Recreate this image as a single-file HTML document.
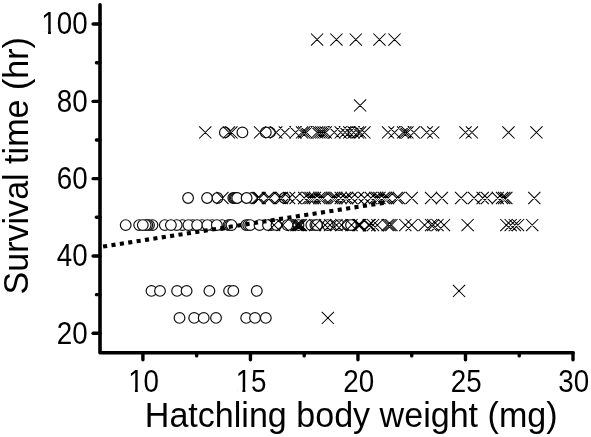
<!DOCTYPE html>
<html><head><meta charset="utf-8"><style>
html,body{margin:0;padding:0;background:#fff;}
svg{display:block;}
circle{fill:#fff;stroke:#111;stroke-width:1.2;}
.x{fill:none;stroke:#000;stroke-width:1.05;}
</style></head><body>
<svg width="591" height="437" viewBox="0 0 591 437">
<rect width="591" height="437" fill="#fff"/>
<g>
<path d="M100,4.8 L100,352.7 L573,352.7" fill="none" stroke="#000" stroke-width="3.6" stroke-linecap="round" stroke-linejoin="round"/>
<line x1="93.1" y1="333.30" x2="100" y2="333.30" stroke="#000" stroke-width="3.4" stroke-linecap="round"/>
<line x1="96.4" y1="294.64" x2="100" y2="294.64" stroke="#000" stroke-width="3.4" stroke-linecap="round"/>
<line x1="93.1" y1="255.98" x2="100" y2="255.98" stroke="#000" stroke-width="3.4" stroke-linecap="round"/>
<line x1="96.4" y1="217.32" x2="100" y2="217.32" stroke="#000" stroke-width="3.4" stroke-linecap="round"/>
<line x1="93.1" y1="178.66" x2="100" y2="178.66" stroke="#000" stroke-width="3.4" stroke-linecap="round"/>
<line x1="96.4" y1="140.00" x2="100" y2="140.00" stroke="#000" stroke-width="3.4" stroke-linecap="round"/>
<line x1="93.1" y1="101.34" x2="100" y2="101.34" stroke="#000" stroke-width="3.4" stroke-linecap="round"/>
<line x1="96.4" y1="62.68" x2="100" y2="62.68" stroke="#000" stroke-width="3.4" stroke-linecap="round"/>
<line x1="93.1" y1="24.02" x2="100" y2="24.02" stroke="#000" stroke-width="3.4" stroke-linecap="round"/>
<line x1="142.90" y1="352.7" x2="142.90" y2="359.7" stroke="#000" stroke-width="3.4" stroke-linecap="round"/>
<line x1="196.66" y1="352.7" x2="196.66" y2="355.9" stroke="#000" stroke-width="3.4" stroke-linecap="round"/>
<line x1="250.43" y1="352.7" x2="250.43" y2="359.7" stroke="#000" stroke-width="3.4" stroke-linecap="round"/>
<line x1="304.19" y1="352.7" x2="304.19" y2="355.9" stroke="#000" stroke-width="3.4" stroke-linecap="round"/>
<line x1="357.95" y1="352.7" x2="357.95" y2="359.7" stroke="#000" stroke-width="3.4" stroke-linecap="round"/>
<line x1="411.71" y1="352.7" x2="411.71" y2="355.9" stroke="#000" stroke-width="3.4" stroke-linecap="round"/>
<line x1="465.48" y1="352.7" x2="465.48" y2="359.7" stroke="#000" stroke-width="3.4" stroke-linecap="round"/>
<line x1="519.24" y1="352.7" x2="519.24" y2="355.9" stroke="#000" stroke-width="3.4" stroke-linecap="round"/>
<line x1="573.00" y1="352.7" x2="573.00" y2="359.7" stroke="#000" stroke-width="3.4" stroke-linecap="round"/>
<g transform="translate(87.6,343.50) scale(0.91,1)"><text text-anchor="end" font-family="Liberation Sans, Arial, sans-serif" font-size="30.5">20</text></g>
<g transform="translate(87.6,266.18) scale(0.91,1)"><text text-anchor="end" font-family="Liberation Sans, Arial, sans-serif" font-size="30.5">40</text></g>
<g transform="translate(87.6,188.86) scale(0.91,1)"><text text-anchor="end" font-family="Liberation Sans, Arial, sans-serif" font-size="30.5">60</text></g>
<g transform="translate(87.6,111.54) scale(0.91,1)"><text text-anchor="end" font-family="Liberation Sans, Arial, sans-serif" font-size="30.5">80</text></g>
<g transform="translate(87.6,34.22) scale(0.91,1)"><text text-anchor="end" font-family="Liberation Sans, Arial, sans-serif" font-size="30.5">100</text><rect x="-49.10" y="-3.08" width="5.66" height="3.68" fill="#fff"/><rect x="-40.28" y="-3.08" width="5.41" height="3.68" fill="#fff"/></g>
<g transform="translate(143.60,391.6) scale(0.91,1)"><text text-anchor="middle" font-family="Liberation Sans, Arial, sans-serif" font-size="30.5">10</text><rect x="-15.18" y="-3.08" width="5.66" height="3.68" fill="#fff"/><rect x="-6.36" y="-3.08" width="5.41" height="3.68" fill="#fff"/></g>
<g transform="translate(251.12,391.6) scale(0.91,1)"><text text-anchor="middle" font-family="Liberation Sans, Arial, sans-serif" font-size="30.5">15</text><rect x="-15.18" y="-3.08" width="5.66" height="3.68" fill="#fff"/><rect x="-6.36" y="-3.08" width="5.41" height="3.68" fill="#fff"/></g>
<g transform="translate(358.65,391.6) scale(0.91,1)"><text text-anchor="middle" font-family="Liberation Sans, Arial, sans-serif" font-size="30.5">20</text></g>
<g transform="translate(466.18,391.6) scale(0.91,1)"><text text-anchor="middle" font-family="Liberation Sans, Arial, sans-serif" font-size="30.5">25</text></g>
<g transform="translate(573.70,391.6) scale(0.91,1)"><text text-anchor="middle" font-family="Liberation Sans, Arial, sans-serif" font-size="30.5">30</text></g>
<text transform="translate(144.8,426.6) scale(0.96,1)" font-family="Liberation Sans, Arial, sans-serif" font-size="35.5">Hatchling body weight (mg)</text>
<text transform="translate(28.2,294.5) rotate(-90) scale(0.96,1)" font-family="Liberation Sans, Arial, sans-serif" font-size="35.5">Survival time (hr)</text>
<circle cx="224.9" cy="132.4" r="5.35"/>
<circle cx="242.4" cy="132.4" r="5.35"/>
<circle cx="269.9" cy="132.4" r="5.35"/>
<circle cx="265.8" cy="132.4" r="5.35"/>
<circle cx="353.6" cy="132.4" r="5.35"/>
<circle cx="188.1" cy="198.0" r="5.35"/>
<circle cx="207.1" cy="198.0" r="5.35"/>
<circle cx="217.5" cy="198.0" r="5.35"/>
<circle cx="233.3" cy="198.0" r="5.35"/>
<circle cx="234.6" cy="198.0" r="5.35"/>
<circle cx="235.9" cy="198.0" r="5.35"/>
<circle cx="237.2" cy="198.0" r="5.35"/>
<circle cx="252.2" cy="198.0" r="5.35"/>
<circle cx="246.6" cy="198.0" r="5.35"/>
<circle cx="284.5" cy="198.0" r="5.35"/>
<circle cx="182.5" cy="225.1" r="5.35"/>
<circle cx="192.8" cy="225.1" r="5.35"/>
<circle cx="202.2" cy="225.1" r="5.35"/>
<circle cx="212.1" cy="225.1" r="5.35"/>
<circle cx="222.0" cy="225.1" r="5.35"/>
<circle cx="125.7" cy="225.1" r="5.35"/>
<circle cx="152.5" cy="225.1" r="5.35"/>
<circle cx="149.0" cy="225.1" r="5.35"/>
<circle cx="147.3" cy="225.1" r="5.35"/>
<circle cx="145.7" cy="225.1" r="5.35"/>
<circle cx="139.2" cy="225.1" r="5.35"/>
<circle cx="142.8" cy="225.1" r="5.35"/>
<circle cx="164.8" cy="225.1" r="5.35"/>
<circle cx="176.7" cy="225.1" r="5.35"/>
<circle cx="170.9" cy="225.1" r="5.35"/>
<circle cx="188.4" cy="225.1" r="5.35"/>
<circle cx="197.1" cy="225.1" r="5.35"/>
<circle cx="207.4" cy="225.1" r="5.35"/>
<circle cx="216.8" cy="225.1" r="5.35"/>
<circle cx="228.5" cy="225.1" r="5.35"/>
<circle cx="230.0" cy="225.1" r="5.35"/>
<circle cx="231.5" cy="225.1" r="5.35"/>
<circle cx="246.2" cy="225.1" r="5.35"/>
<circle cx="248.2" cy="225.1" r="5.35"/>
<circle cx="250.2" cy="225.1" r="5.35"/>
<circle cx="259.5" cy="225.1" r="5.35"/>
<circle cx="271.3" cy="225.1" r="5.35"/>
<circle cx="268.0" cy="225.1" r="5.35"/>
<circle cx="276.5" cy="225.1" r="5.35"/>
<circle cx="287.5" cy="225.1" r="5.35"/>
<circle cx="298.5" cy="225.1" r="5.35"/>
<circle cx="311.3" cy="225.1" r="5.35"/>
<circle cx="315.4" cy="225.1" r="5.35"/>
<circle cx="316.9" cy="225.1" r="5.35"/>
<circle cx="327.7" cy="225.1" r="5.35"/>
<circle cx="339.3" cy="225.1" r="5.35"/>
<circle cx="347.6" cy="225.1" r="5.35"/>
<circle cx="351.0" cy="225.1" r="5.35"/>
<circle cx="151.5" cy="290.9" r="5.35"/>
<circle cx="160.0" cy="290.9" r="5.35"/>
<circle cx="177.1" cy="290.9" r="5.35"/>
<circle cx="186.6" cy="290.9" r="5.35"/>
<circle cx="209.4" cy="290.9" r="5.35"/>
<circle cx="229.1" cy="290.9" r="5.35"/>
<circle cx="233.3" cy="290.9" r="5.35"/>
<circle cx="256.8" cy="290.9" r="5.35"/>
<circle cx="179.5" cy="317.9" r="5.35"/>
<circle cx="194.2" cy="317.9" r="5.35"/>
<circle cx="203.7" cy="317.9" r="5.35"/>
<circle cx="216.0" cy="317.9" r="5.35"/>
<circle cx="246.2" cy="317.9" r="5.35"/>
<circle cx="255.0" cy="317.9" r="5.35"/>
<circle cx="265.8" cy="317.9" r="5.35"/>
<path class="x" d="M310.99,33.50L323.19,45.70M310.99,45.70L323.19,33.50M330.34,33.50L342.54,45.70M330.34,45.70L342.54,33.50M349.70,33.50L361.90,45.70M349.70,45.70L361.90,33.50M373.35,33.50L385.55,45.70M373.35,45.70L385.55,33.50M388.41,33.50L400.61,45.70M388.41,45.70L400.61,33.50M354.00,99.30L366.20,111.50M354.00,111.50L366.20,99.30M199.16,126.30L211.36,138.50M199.16,138.50L211.36,126.30M222.82,126.30L235.02,138.50M222.82,138.50L235.02,126.30M225.30,126.30L237.50,138.50M225.30,138.50L237.50,126.30M254.00,126.30L266.20,138.50M254.00,138.50L266.20,126.30M270.13,126.30L282.33,138.50M270.13,138.50L282.33,126.30M278.73,126.30L290.93,138.50M278.73,138.50L290.93,126.30M289.49,126.30L301.69,138.50M289.49,138.50L301.69,126.30M295.94,126.30L308.14,138.50M295.94,138.50L308.14,126.30M298.09,126.30L310.29,138.50M298.09,138.50L310.29,126.30M300.24,126.30L312.44,138.50M300.24,138.50L312.44,126.30M310.99,126.30L323.19,138.50M310.99,138.50L323.19,126.30M313.14,126.30L325.34,138.50M313.14,138.50L325.34,126.30M315.29,126.30L327.49,138.50M315.29,138.50L327.49,126.30M317.44,126.30L329.64,138.50M317.44,138.50L329.64,126.30M319.59,126.30L331.79,138.50M319.59,138.50L331.79,126.30M328.19,126.30L340.39,138.50M328.19,138.50L340.39,126.30M334.65,126.30L346.85,138.50M334.65,138.50L346.85,126.30M338.95,126.30L351.15,138.50M338.95,138.50L351.15,126.30M343.25,126.30L355.45,138.50M343.25,138.50L355.45,126.30M347.55,126.30L359.75,138.50M347.55,138.50L359.75,126.30M351.85,126.30L364.05,138.50M351.85,138.50L364.05,126.30M354.00,126.30L366.20,138.50M354.00,138.50L366.20,126.30M358.30,126.30L370.50,138.50M358.30,138.50L370.50,126.30M381.96,126.30L394.16,138.50M381.96,138.50L394.16,126.30M388.41,126.30L400.61,138.50M388.41,138.50L400.61,126.30M397.01,126.30L409.21,138.50M397.01,138.50L409.21,126.30M399.16,126.30L411.36,138.50M399.16,138.50L411.36,126.30M401.31,126.30L413.51,138.50M401.31,138.50L413.51,126.30M407.76,126.30L419.96,138.50M407.76,138.50L419.96,126.30M420.67,126.30L432.87,138.50M420.67,138.50L432.87,126.30M427.12,126.30L439.32,138.50M427.12,138.50L439.32,126.30M459.38,126.30L471.58,138.50M459.38,138.50L471.58,126.30M465.83,126.30L478.03,138.50M465.83,138.50L478.03,126.30M502.39,126.30L514.59,138.50M502.39,138.50L514.59,126.30M530.34,126.30L542.54,138.50M530.34,138.50L542.54,126.30M216.37,191.90L228.57,204.10M216.37,204.10L228.57,191.90M251.60,191.90L263.80,204.10M251.60,204.10L263.80,191.90M253.50,191.90L265.70,204.10M253.50,204.10L265.70,191.90M261.80,191.90L274.00,204.10M261.80,204.10L274.00,191.90M263.70,191.90L275.90,204.10M263.70,204.10L275.90,191.90M273.90,191.90L286.10,204.10M273.90,204.10L286.10,191.90M275.80,191.90L288.00,204.10M275.80,204.10L288.00,191.90M283.00,191.90L295.20,204.10M283.00,204.10L295.20,191.90M289.50,191.90L301.70,204.10M289.50,204.10L301.70,191.90M298.10,191.90L310.30,204.10M298.10,204.10L310.30,191.90M302.39,191.90L314.59,204.10M302.39,204.10L314.59,191.90M304.54,191.90L316.74,204.10M304.54,204.10L316.74,191.90M306.69,191.90L318.89,204.10M306.69,204.10L318.89,191.90M308.84,191.90L321.04,204.10M308.84,204.10L321.04,191.90M313.14,191.90L325.34,204.10M313.14,204.10L325.34,191.90M315.29,191.90L327.49,204.10M315.29,204.10L327.49,191.90M317.44,191.90L329.64,204.10M317.44,204.10L329.64,191.90M326.04,191.90L338.24,204.10M326.04,204.10L338.24,191.90M328.19,191.90L340.39,204.10M328.19,204.10L340.39,191.90M330.34,191.90L342.54,204.10M330.34,204.10L342.54,191.90M334.65,191.90L346.85,204.10M334.65,204.10L346.85,191.90M338.95,191.90L351.15,204.10M338.95,204.10L351.15,191.90M341.10,191.90L353.30,204.10M341.10,204.10L353.30,191.90M345.40,191.90L357.60,204.10M345.40,204.10L357.60,191.90M351.85,191.90L364.05,204.10M351.85,204.10L364.05,191.90M358.30,191.90L370.50,204.10M358.30,204.10L370.50,191.90M364.75,191.90L376.95,204.10M364.75,204.10L376.95,191.90M369.05,191.90L381.25,204.10M369.05,204.10L381.25,191.90M371.20,191.90L383.40,204.10M371.20,204.10L383.40,191.90M373.35,191.90L385.55,204.10M373.35,204.10L385.55,191.90M377.66,191.90L389.86,204.10M377.66,204.10L389.86,191.90M379.81,191.90L392.01,204.10M379.81,204.10L392.01,191.90M381.96,191.90L394.16,204.10M381.96,204.10L394.16,191.90M390.56,191.90L402.76,204.10M390.56,204.10L402.76,191.90M392.71,191.90L404.91,204.10M392.71,204.10L404.91,191.90M405.61,191.90L417.81,204.10M405.61,204.10L417.81,191.90M424.97,191.90L437.17,204.10M424.97,204.10L437.17,191.90M435.72,191.90L447.92,204.10M435.72,204.10L447.92,191.90M455.07,191.90L467.27,204.10M455.07,204.10L467.27,191.90M467.98,191.90L480.18,204.10M467.98,204.10L480.18,191.90M476.58,191.90L488.78,204.10M476.58,204.10L488.78,191.90M480.88,191.90L493.08,204.10M480.88,204.10L493.08,191.90M491.63,191.90L503.83,204.10M491.63,204.10L503.83,191.90M495.93,191.90L508.13,204.10M495.93,204.10L508.13,191.90M498.08,191.90L510.28,204.10M498.08,204.10L510.28,191.90M500.23,191.90L512.43,204.10M500.23,204.10L512.43,191.90M528.19,191.90L540.39,204.10M528.19,204.10L540.39,191.90M268.00,219.00L280.20,231.20M268.00,231.20L280.20,219.00M276.60,219.00L288.80,231.20M276.60,231.20L288.80,219.00M290.30,219.00L302.50,231.20M290.30,231.20L302.50,219.00M291.80,219.00L304.00,231.20M291.80,231.20L304.00,219.00M293.30,219.00L305.50,231.20M293.30,231.20L305.50,219.00M294.80,219.00L307.00,231.20M294.80,231.20L307.00,219.00M309.00,219.00L321.20,231.20M309.00,231.20L321.20,219.00M319.00,219.00L331.20,231.20M319.00,231.20L331.20,219.00M323.90,219.00L336.10,231.20M323.90,231.20L336.10,219.00M330.40,219.00L342.60,231.20M330.40,231.20L342.60,219.00M335.50,219.00L347.70,231.20M335.50,231.20L347.70,219.00M345.40,219.00L357.60,231.20M345.40,231.20L357.60,219.00M352.10,219.00L364.30,231.20M352.10,231.20L364.30,219.00M353.10,219.00L365.30,231.20M353.10,231.20L365.30,219.00M354.10,219.00L366.30,231.20M354.10,231.20L366.30,219.00M362.60,219.00L374.80,231.20M362.60,231.20L374.80,219.00M363.60,219.00L375.80,231.20M363.60,231.20L375.80,219.00M366.90,219.00L379.10,231.20M366.90,231.20L379.10,219.00M371.20,219.00L383.40,231.20M371.20,231.20L383.40,219.00M381.50,219.00L393.70,231.20M381.50,231.20L393.70,219.00M383.40,219.00L395.60,231.20M383.40,231.20L395.60,219.00M385.30,219.00L397.50,231.20M385.30,231.20L397.50,219.00M399.20,219.00L411.40,231.20M399.20,231.20L411.40,219.00M405.60,219.00L417.80,231.20M405.60,231.20L417.80,219.00M418.50,219.00L430.70,231.20M418.50,231.20L430.70,219.00M425.00,219.00L437.20,231.20M425.00,231.20L437.20,219.00M427.10,219.00L439.30,231.20M427.10,231.20L439.30,219.00M431.40,219.00L443.60,231.20M431.40,231.20L443.60,219.00M437.90,219.00L450.10,231.20M437.90,231.20L450.10,219.00M461.50,219.00L473.70,231.20M461.50,231.20L473.70,219.00M500.30,219.00L512.50,231.20M500.30,231.20L512.50,219.00M504.60,219.00L516.80,231.20M504.60,231.20L516.80,219.00M508.70,219.00L520.90,231.20M508.70,231.20L520.90,219.00M511.90,219.00L524.10,231.20M511.90,231.20L524.10,219.00M526.10,219.00L538.30,231.20M526.10,231.20L538.30,219.00M452.92,284.80L465.12,297.00M452.92,297.00L465.12,284.80M321.74,311.80L333.94,324.00M321.74,324.00L333.94,311.80"/>
<path d="M103.07,246.54L107.13,245.91M111.45,245.23L115.51,244.60M119.83,243.93L123.89,243.30M128.21,242.62L132.27,241.99M136.59,241.32L140.65,240.69M144.97,240.01L149.03,239.38M153.35,238.71L157.41,238.08M161.73,237.40L165.79,236.77M170.11,236.10L174.17,235.47M178.49,234.79L182.55,234.16M186.87,233.49L190.93,232.86M195.25,232.18L199.31,231.55M203.63,230.88L207.69,230.25M212.01,229.58L216.07,228.94M220.39,228.27L224.45,227.64M228.77,226.97L232.83,226.33M237.15,225.66L241.21,225.03M245.53,224.36L249.59,223.73M253.91,223.05L257.97,222.42M262.29,221.75L266.35,221.12M270.67,220.44L274.73,219.81M279.05,219.14L283.11,218.51M287.43,217.83L291.49,217.20M295.81,216.53L299.87,215.90M304.19,215.22L308.25,214.59M312.57,213.92L316.63,213.29M320.95,212.61L325.01,211.98M329.33,211.31L333.39,210.68M337.71,210.00L341.77,209.37M346.09,208.70L350.15,208.07M354.47,207.39L358.53,206.76M362.85,206.09L366.91,205.46M371.23,204.78L375.29,204.15M379.61,203.48L383.67,202.85" stroke="#000" stroke-width="4.1" fill="none"/>
</g>
</svg></body></html>
